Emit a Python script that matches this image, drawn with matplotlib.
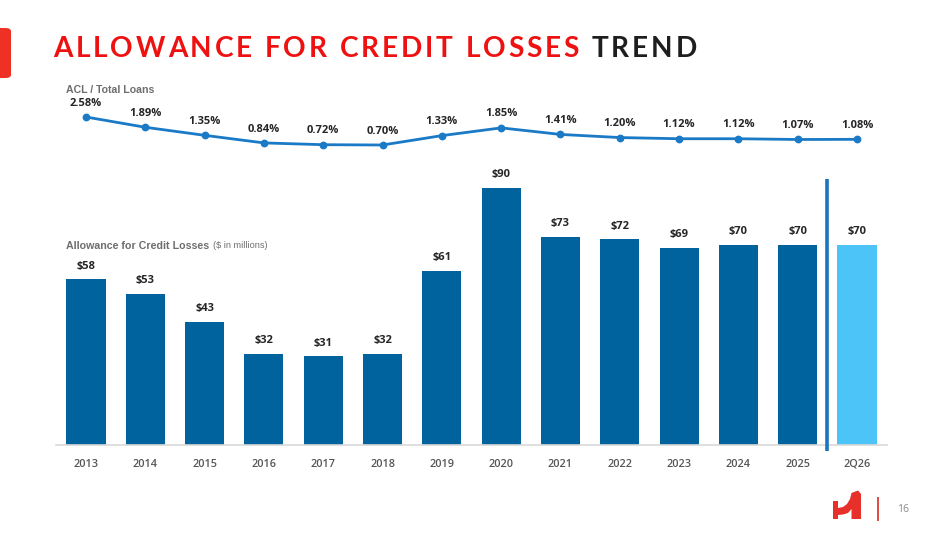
import matplotlib
matplotlib.use("Agg")
import matplotlib.pyplot as plt
from matplotlib.patches import FancyBboxPatch, Polygon
from matplotlib.font_manager import FontProperties, findfont
from matplotlib.ft2font import FT2Font, LoadFlags

# ---------------- data ----------------
categories = ["2013", "2014", "2015", "2016", "2017", "2018", "2019",
              "2020", "2021", "2022", "2023", "2024", "2025", "2Q26"]
acl_millions = [58, 53, 43, 32, 31, 32, 61, 90, 73, 72, 69, 70, 70, 70]
acl_ratio = [2.58, 1.89, 1.35, 0.84, 0.72, 0.70, 1.33, 1.85, 1.41, 1.20,
             1.12, 1.12, 1.07, 1.08]
bar_labels = ["$" + str(v) for v in acl_millions]
ratio_labels = [f"{v:.2f}%" for v in acl_ratio]

W, H = 949, 534
DPI = 100
fig = plt.figure(figsize=(W / DPI, H / DPI), dpi=DPI)
fig.patch.set_facecolor("white")


def fx(x):
    return x / W


def fy(y):
    return 1 - y / H


DARK = "#00639E"
LIGHT = "#4CC4F7"
LINE = "#1A7AC6"
TXT = "#262626"
GRAY = "#555555"

# ---------------- bar axes ----------------
left_px, right_px = 56.35, 886.65
bottom_px = 445
ymax = 100
px_per_unit = 2.856
top_px = bottom_px - ymax * px_per_unit
ax = fig.add_axes([fx(left_px), fy(bottom_px), (right_px - left_px) / W,
                   (bottom_px - top_px) / H])
x = list(range(len(categories)))
colors = [DARK] * (len(categories) - 1) + [LIGHT]
ax.bar(x, acl_millions, width=0.66, color=colors, zorder=2)
ax.set_xlim(-0.5, len(categories) - 0.5)
ax.set_ylim(0, ymax)
for s in ["top", "right", "left"]:
    ax.spines[s].set_visible(False)
ax.spines["bottom"].set_color("#D9D9D9")
ax.spines["bottom"].set_linewidth(1.2)
ax.set_yticks([])
ax.set_xticks(x)
ax.set_xticklabels(categories, fontfamily="Open Sans", fontweight="semibold",
                   fontsize=7.8, color=GRAY)
ax.tick_params(axis="x", length=0, pad=10)
ax.set_facecolor("none")
for xi, v, lab in zip(x, acl_millions, bar_labels):
    ax.annotate(lab, (xi, v), xytext=(0, 9.5), textcoords="offset points",
                ha="center", va="center", fontfamily="Open Sans",
                fontweight="bold", fontsize=8, color=TXT)
# divider between 2025 and 2Q26
ax.plot([len(categories) - 1.5] * 2, [-2, 93], color="#1B75BC", lw=2.6,
        clip_on=False, zorder=3, solid_capstyle="butt")

# ---------------- line axes ----------------
l_top, l_bot = 90, 160
slope = 14.894
lo = 0.70 - (l_bot - 145) / slope
hi = 2.58 + (117 - l_top) / slope
ax2 = fig.add_axes([fx(left_px), fy(l_bot), (right_px - left_px) / W,
                    (l_bot - l_top) / H])
ax2.plot(x, acl_ratio, color=LINE, lw=2.0, marker="o", markersize=4.6,
         clip_on=False)
ax2.set_xlim(-0.5, len(categories) - 0.5)
ax2.set_ylim(lo, hi)
ax2.axis("off")
for xi, v, lab in zip(x, acl_ratio, ratio_labels):
    ax2.annotate(lab, (xi, v), xytext=(0, 10), textcoords="offset points",
                 ha="center", va="center", fontfamily="Open Sans",
                 fontweight="bold", fontsize=8, color=TXT)

# ---------------- section labels ----------------
fig.text(fx(66), fy(90), "ACL / Total Loans", fontfamily="Liberation Sans",
         fontweight="bold", fontsize=7.6, color="#6E6E6E", va="center")
fig.text(fx(66), fy(246), "Allowance for Credit Losses",
         fontfamily="Liberation Sans", fontweight="bold", fontsize=7.7,
         color="#6E6E6E", va="center")
fig.text(fx(213), fy(246), "($ in millions)", fontfamily="Liberation Sans",
         fontsize=6.6, color="#6E6E6E", va="center")

# ---------------- title with tracking ----------------
title_parts = [("ALLOWANCE FOR CREDIT LOSSES ", "#EE1111"), ("TREND", "#1E1E1E")]
title_size = 20.2
fp = FontProperties(family="Lato", weight="bold")
font = FT2Font(findfont(fp))
font.set_size(title_size, DPI)
chars = []
for txt, col in title_parts:
    for ch in txt:
        g = font.load_char(ord(ch), flags=LoadFlags.NO_HINTING)
        chars.append((ch, col, g.linearHoriAdvance / 65536.0))
natural = sum(a for _, _, a in chars[:-1]) + chars[-1][2] * 0.92
target = 695 - 53
track = (target - natural) / (len(chars) - 1)
cx = 53
for ch, col, adv in chars:
    if ch != " ":
        fig.text(fx(cx), fy(56.7), ch, fontproperties=fp, fontsize=title_size,
                 color=col, ha="left", va="baseline")
    cx += adv + track

# red tab at left edge
tab = FancyBboxPatch((fx(-6), fy(78)), fx(17), (78 - 28) / H,
                     boxstyle="round,pad=0,rounding_size=0.006",
                     transform=fig.transFigure, facecolor="#EE3124",
                     edgecolor="none")
fig.patches.append(tab)

# ---------------- footer logo & page number ----------------
logo_pts = [(833, 501), (838, 501), (838, 508), (843, 507), (847, 504),
            (850, 499), (851.5, 493), (858, 490.5), (861, 494), (861, 519),
            (851.5, 519), (851.5, 509), (848, 513), (843, 514.5), (838, 515),
            (838, 519), (833, 519)]
logo = Polygon([(fx(px), fy(py)) for px, py in logo_pts], closed=True,
               transform=fig.transFigure, facecolor="#E8302A",
               edgecolor="none")
fig.patches.append(logo)
fig.add_artist(plt.Line2D([fx(878), fx(878)], [fy(498), fy(520)],
                          transform=fig.transFigure, color="#E04A40", lw=1.4))
fig.text(fx(897), fy(509), "16", fontfamily="Open Sans", fontsize=7.5,
         color="#8C8C8C", va="center", ha="left")

fig.savefig("out.png", dpi=DPI, facecolor="white")
